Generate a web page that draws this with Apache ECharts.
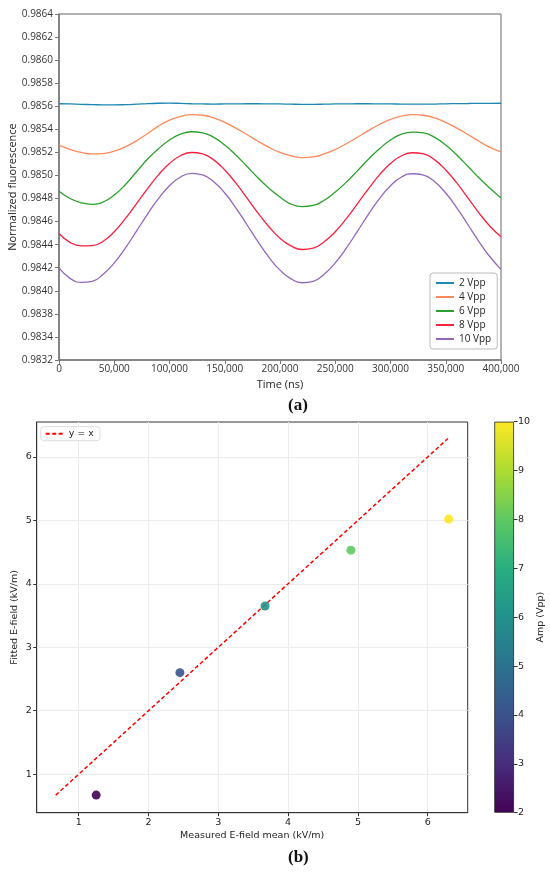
<!DOCTYPE html>
<html>
<head>
<meta charset="utf-8">
<script src="https://cdn.jsdelivr.net/npm/echarts@6/dist/echarts.min.js"></script>
<style>
html,body{margin:0;padding:0;background:#fff;}
#c{width:550px;height:878px;}
</style>
</head>
<body>
<div id="c"></div>
<script>
// ---------- Panel (a) data ----------
const times = [0,10000,20000,30000,40000,50000,60000,70000,80000,90000,100000,110000,120000,130000,140000,150000,160000,170000,180000,190000,200000,210000,220000,230000,240000,250000,260000,270000,280000,290000,300000,310000,320000,330000,340000,350000,360000,370000,380000,390000,400000];
const seriesNames = ['2 Vpp','4 Vpp','6 Vpp','8 Vpp','10 Vpp'];
const vpp2 = [0.985622,0.985620,0.985617,0.985614,0.985612,0.985612,0.985614,0.985618,0.985623,0.985626,0.985627,0.985625,0.985622,0.985620,0.985619,0.985620,0.985621,0.985622,0.985622,0.985621,0.985620,0.985618,0.985617,0.985617,0.985618,0.985620,0.985621,0.985622,0.985622,0.985621,0.985620,0.985619,0.985618,0.985618,0.985619,0.985621,0.985623,0.985624,0.985625,0.985625,0.985626];
const vpp4 = [0.985263,0.985226,0.985200,0.985187,0.985190,0.985210,0.985248,0.985300,0.985362,0.985428,0.985480,0.985513,0.985528,0.985522,0.985499,0.985461,0.985411,0.985355,0.985297,0.985244,0.985200,0.985171,0.985155,0.985161,0.985187,0.985225,0.985275,0.985331,0.985389,0.985442,0.985486,0.985515,0.985527,0.985522,0.985499,0.985461,0.985411,0.985355,0.985297,0.985244,0.985205];
const vpp6 = [0.984863,0.984800,0.984763,0.984750,0.984770,0.984830,0.984920,0.985030,0.985140,0.985231,0.985307,0.985358,0.985379,0.985370,0.985330,0.985264,0.985178,0.985080,0.984980,0.984889,0.984813,0.984752,0.984730,0.984740,0.984785,0.984856,0.984942,0.985040,0.985140,0.985231,0.985307,0.985358,0.985376,0.985370,0.985330,0.985264,0.985178,0.985080,0.984980,0.984889,0.984805];
const vpp8 = [0.984497,0.984420,0.984390,0.984392,0.984430,0.984512,0.984625,0.984754,0.984884,0.985005,0.985104,0.985171,0.985199,0.985187,0.985135,0.985048,0.984935,0.984806,0.984676,0.984555,0.984456,0.984389,0.984358,0.984370,0.984425,0.984512,0.984625,0.984754,0.984884,0.985005,0.985104,0.985171,0.985197,0.985187,0.985135,0.985048,0.984935,0.984806,0.984676,0.984560,0.984468];
const vpp10 = [0.984198,0.984108,0.984073,0.984082,0.984144,0.984242,0.984370,0.984515,0.984663,0.984800,0.984911,0.984987,0.985019,0.985005,0.984946,0.984848,0.984720,0.984575,0.984427,0.984290,0.984179,0.984103,0.984070,0.984082,0.984144,0.984242,0.984370,0.984515,0.984663,0.984800,0.984911,0.984987,0.985015,0.985003,0.984946,0.984848,0.984720,0.984575,0.984427,0.984295,0.984186];
// tick labels of the y axis, bottom to top, as printed in the figure
const yTickLabelsA = ['0.9832','0.9834','0.9838','0.9840','0.9842','0.9844','0.9846','0.9848','0.9850','0.9852','0.9854','0.9856','0.9858','0.9860','0.9862','0.9864'];

// ---------- Panel (b) data ----------
const measured = [1.25, 2.45, 3.67, 4.90, 6.30];
const fitted   = [0.67, 2.60, 3.65, 4.53, 5.02];
const amps     = [2, 4, 6, 8, 10];
const refLineX = [0.67, 6.29];
const ampRange = [2, 10];
const xTicksB = [1, 2, 3, 4, 5, 6];
const yTicksB = [1, 2, 3, 4, 5, 6];

// ---------- styles ----------
const lineColors = ['#1f87b2','#fb8a5c','#2ca02c','#f4213f','#9467bd'];
const viridis = ['#440154','#472d7b','#3b528b','#2c728e','#21918c','#28ae80','#5ec962','#addc30','#fde725'];
const fontA = 'Open Sans, Lato, sans-serif';
const fontB = 'DejaVu Sans, sans-serif';

const chart = echarts.init(document.getElementById('c'), null, {renderer:'canvas'});

const allA = [vpp2, vpp4, vpp6, vpp8, vpp10];
const lineSeries = allA.map((arr, k) => ({
  name: seriesNames[k], type: 'line', xAxisIndex: 0, yAxisIndex: 0,
  data: times.map((t, i) => [t, arr[i]]),
  smooth: 0.5, symbol: 'none', showSymbol: false,
  lineStyle: {color: lineColors[k], width: 1.3}, itemStyle: {color: lineColors[k]},
  z: 3
}));

const gradStops = viridis.map((c, i) => ({offset: 1 - i / (viridis.length - 1), color: c}));
const intLabel = v => Math.abs(v - Math.round(v)) < 1e-6 ? String(Math.round(v)) : '';

const option = {
  animation: false,
  backgroundColor: '#ffffff',
  grid: [
    {left: 59, right: 49, top: 14, bottom: 518, show: true, borderColor: '#666', borderWidth: 1, backgroundColor: 'transparent', containLabel: false, outerBoundsMode: 'none'},
    {left: 36.7, right: 82.3, top: 422, bottom: 65.3, show: true, borderColor: '#333', borderWidth: 1, containLabel: false, outerBoundsMode: 'none'},
    {left: 494.3, right: 36, top: 421.7, bottom: 65.3, show: false, containLabel: false, outerBoundsMode: 'none'}
  ],
  xAxis: [
    {gridIndex: 0, type: 'value', min: 0, max: 400000, interval: 50000,
     name: 'Time (ns)', nameLocation: 'middle', nameGap: 19,
     nameTextStyle: {fontFamily: fontA, fontSize: 11, color: '#222'},
     axisLine: {show: true, lineStyle: {color: '#777', width: 1.5}},
     axisTick: {show: true, length: 4, lineStyle: {color: '#777'}},
     axisLabel: {fontFamily: fontA, fontSize: 10, color: '#333', margin: 4,
       formatter: v => Number(v).toLocaleString('en-US')},
     splitLine: {show: false}},
    {gridIndex: 1, type: 'value', min: 0.398, max: 6.573, minInterval: 1, maxInterval: 1,
     name: 'Measured E-field mean (kV/m)', nameLocation: 'middle', nameGap: 18, nameMoveOverlap: false,
     nameTextStyle: {fontFamily: fontB, fontSize: 9.5, color: '#222'},
     axisLine: {show: true, lineStyle: {color: '#333', width: 1}},
     axisTick: {show: true, length: 3.5, lineStyle: {color: '#333'}, customValues: xTicksB},
     axisLabel: {fontFamily: fontB, fontSize: 9.5, color: '#222', margin: 5, customValues: xTicksB, formatter: intLabel},
     splitLine: {show: true, lineStyle: {color: '#ebebeb', width: 1}}},
    {gridIndex: 2, type: 'category', data: [''], show: false}
  ],
  yAxis: [
    {gridIndex: 0, type: 'value', min: 0.9834, max: 0.9864, interval: 0.0002,
     name: 'Normalized fluorescence', nameLocation: 'middle', nameGap: 41, nameMoveOverlap: false,
     nameTextStyle: {fontFamily: fontA, fontSize: 11, color: '#222'},
     axisLine: {show: true, lineStyle: {color: '#777', width: 1.5}},
     axisTick: {show: true, length: 4, lineStyle: {color: '#777'}},
     axisLabel: {fontFamily: fontA, fontSize: 10, color: '#333', margin: 6,
       formatter: v => yTickLabelsA[Math.round((v - 0.9834) / 0.0002)] || ''},
     splitLine: {show: false}},
    {gridIndex: 1, type: 'value', min: 0.393, max: 6.55, minInterval: 1, maxInterval: 1,
     name: 'Fitted E-field (kV/m)', nameLocation: 'middle', nameGap: 17, nameMoveOverlap: false,
     nameTextStyle: {fontFamily: fontB, fontSize: 9.5, color: '#222'},
     axisLine: {show: true, lineStyle: {color: '#333', width: 1}},
     axisTick: {show: true, length: 3.5, lineStyle: {color: '#333'}, customValues: yTicksB},
     axisLabel: {fontFamily: fontB, fontSize: 9.5, color: '#222', margin: 5, customValues: yTicksB, formatter: intLabel},
     splitLine: {show: true, lineStyle: {color: '#ebebeb', width: 1}}},
    {gridIndex: 2, type: 'value', min: ampRange[0], max: ampRange[1], interval: 1, position: 'right',
     name: 'Amp (Vpp)', nameLocation: 'middle', nameGap: 22, nameRotate: 90,
     nameTextStyle: {fontFamily: fontB, fontSize: 9.5, color: '#222'},
     axisLine: {show: false},
     axisTick: {show: true, length: 3.5, lineStyle: {color: '#333'}},
     axisLabel: {fontFamily: fontB, fontSize: 9.5, color: '#222', margin: 4},
     splitLine: {show: false}}
  ],
  legend: [
    {data: seriesNames, orient: 'vertical', left: 430, top: 273,
     itemWidth: 18, itemHeight: 11, itemGap: 4, padding: [5, 6, 5, 5],
     itemStyle: {opacity: 0, borderWidth: 0},
     borderColor: '#bbb', borderWidth: 1, borderRadius: 3, backgroundColor: '#fff',
     textStyle: {fontFamily: fontA, fontSize: 10, color: '#222'}},
    {data: ['y = x'], orient: 'vertical', left: 40.7, top: 426.7,
     itemWidth: 18, itemHeight: 11, itemGap: 0, padding: [2, 6, 2, 4],
     itemStyle: {opacity: 0, borderWidth: 0},
     borderColor: '#ddd', borderWidth: 1, borderRadius: 3, backgroundColor: '#fff',
     textStyle: {fontFamily: fontB, fontSize: 9.5, color: '#222'}}
  ],
  visualMap: [{
    type: 'continuous', show: false, min: ampRange[0], max: ampRange[1], dimension: 2,
    seriesIndex: 6, inRange: {color: viridis}
  }],
  graphic: [
    {type: 'text', left: 288, top: 397, style: {text: '(a)', font: 'bold 17px "Liberation Serif", serif', fill: '#111'}},
    {type: 'text', left: 288, top: 849, style: {text: '(b)', font: 'bold 17px "Liberation Serif", serif', fill: '#111'}}
  ],
  series: [
    ...lineSeries,
    {name: 'y = x', type: 'line', xAxisIndex: 1, yAxisIndex: 1,
     data: refLineX.map(v => [v, v]), symbol: 'none', showSymbol: false,
     lineStyle: {color: '#ff0000', width: 1.5, type: [4, 2.5]}, itemStyle: {color: '#ff0000'}, z: 2},
    {name: 'points', type: 'scatter', xAxisIndex: 1, yAxisIndex: 1,
     data: measured.map((m, i) => [m, fitted[i], amps[i]]),
     symbolSize: 9, itemStyle: {opacity: 0.9}, z: 4},
    {name: 'cbBase', type: 'bar', xAxisIndex: 2, yAxisIndex: 2, stack: 'cb',
     data: [ampRange[0]], barWidth: '100%', itemStyle: {color: 'rgba(0,0,0,0)'}, silent: true},
    {name: 'cbBar', type: 'bar', xAxisIndex: 2, yAxisIndex: 2, stack: 'cb',
     data: [ampRange[1] - ampRange[0]], barWidth: '100%', silent: true,
     itemStyle: {color: new echarts.graphic.LinearGradient(0, 0, 0, 1, gradStops), borderColor: '#222', borderWidth: 0.8}}
  ]
};
chart.setOption(option);
</script>
</body>
</html>
